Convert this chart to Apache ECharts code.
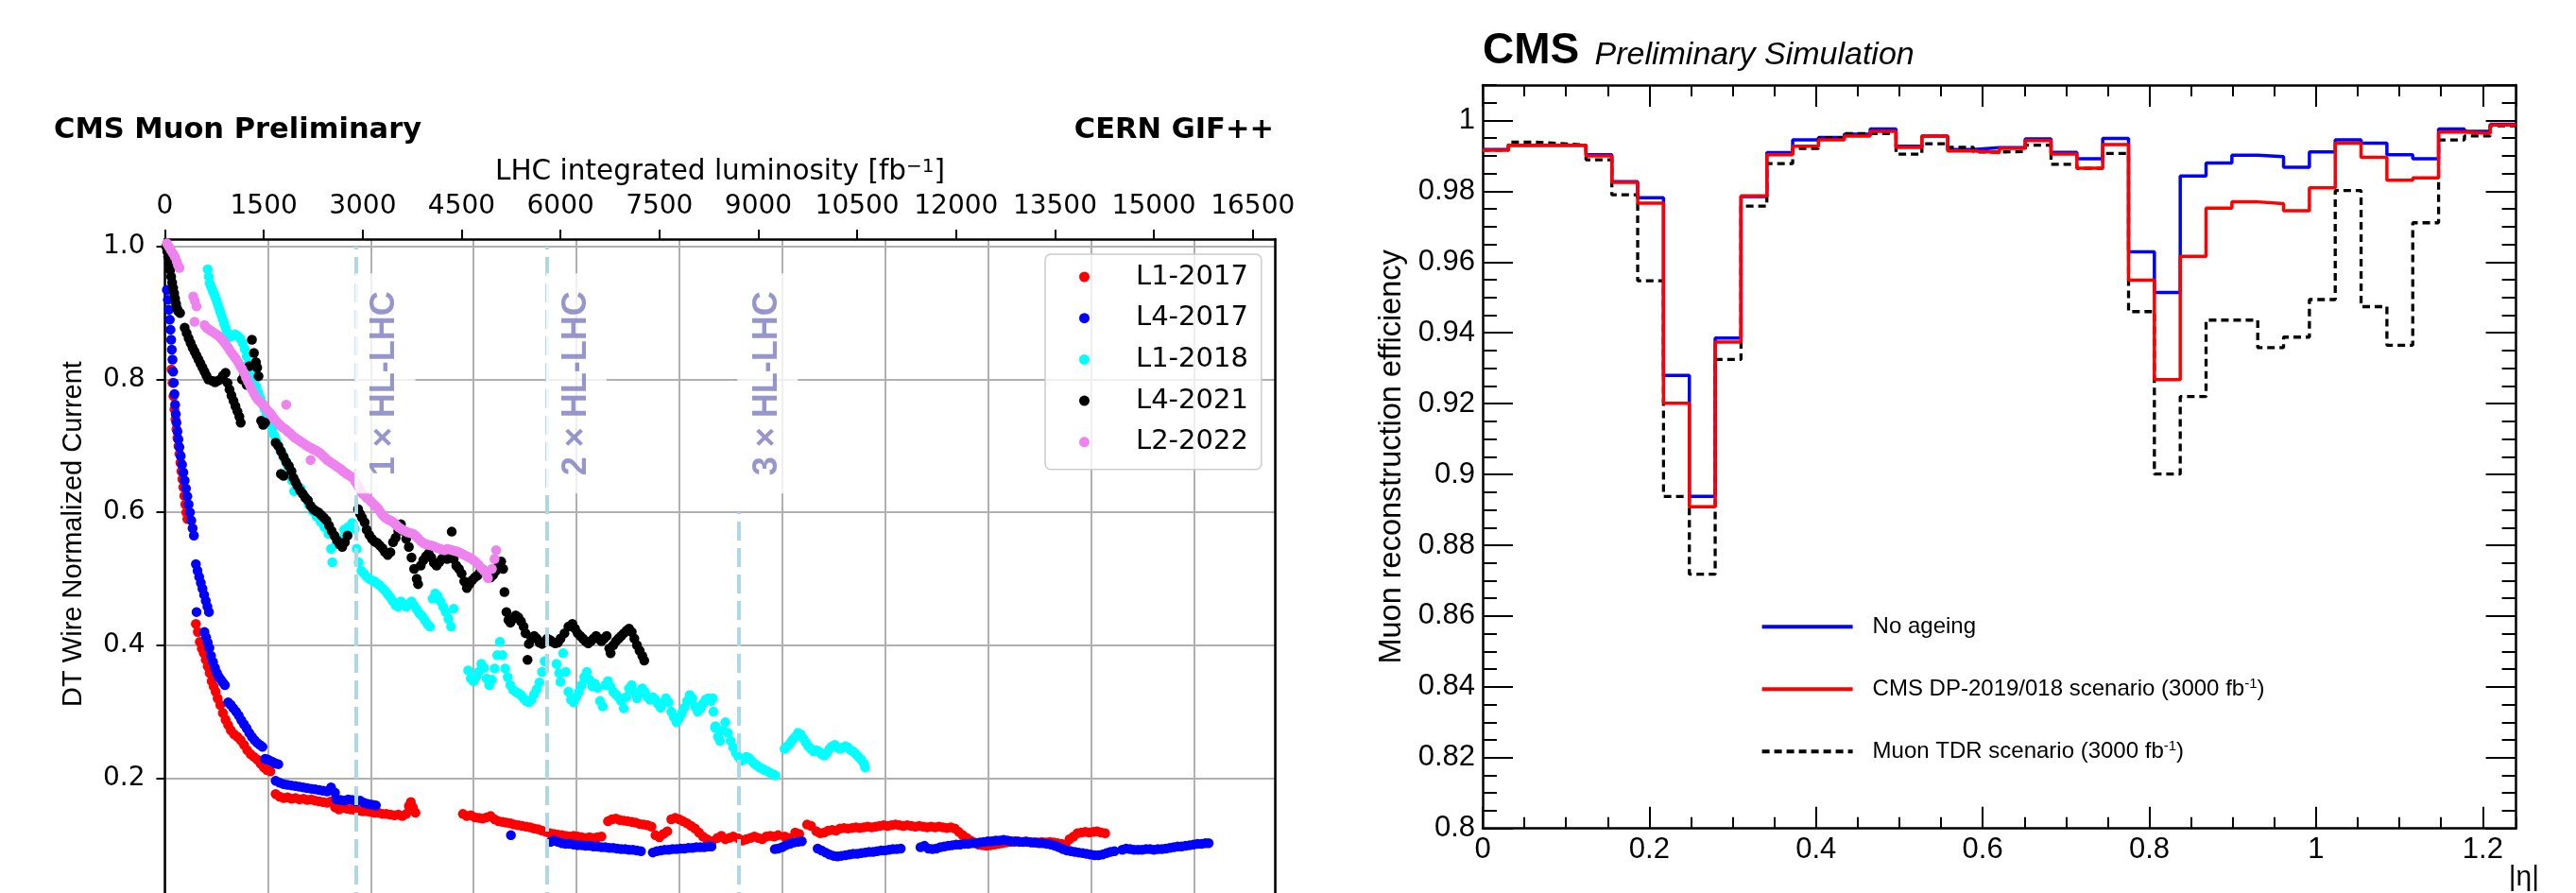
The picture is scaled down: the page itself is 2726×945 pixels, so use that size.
<!DOCTYPE html>
<html>
<head>
<meta charset="utf-8">
<script src="https://cdn.jsdelivr.net/npm/echarts@6.0.0/dist/echarts.min.js"></script>
<style>
html, body { margin:0; padding:0; background:#fff; overflow:hidden; width:2726px; height:945px; }
#wireCurrent { position:absolute; left:0; top:0; width:1400px; height:1000px; }
#muonEff { position:absolute; left:1400px; top:0; width:1326px; height:945px; }
</style>
</head>
<body>
<div id="wireCurrent"></div>
<div id="muonEff"></div>
<script>
// ---------- left panel data : DT wire current vs LHC integrated luminosity ----------
var lumiTicks = [0, 1500, 3000, 4500, 6000, 7500, 9000, 10500, 12000, 13500, 15000, 16500];
var currentTicks = [0.2, 0.4, 0.6, 0.8, 1.0];
var chamberNames = ['L1-2017', 'L4-2017', 'L1-2018', 'L4-2021', 'L2-2022'];
var chamberColors = ['#ff0000', '#0000ff', '#00ffff', '#000000', '#ee82ee'];

var l1_2017 = [
 [100,0.815],[115,0.795],[130,0.775],[145,0.755],[160,0.74],[175,0.725],[190,0.712],[205,0.70],[220,0.688],[235,0.675],
 [250,0.662],[265,0.650],[280,0.638],[295,0.625],[310,0.612],[325,0.600],[340,0.590],
 [470,0.432],[500,0.420],[530,0.405],[560,0.395],[590,0.388],[620,0.378],[650,0.368],[680,0.358],[710,0.346],[740,0.338],
 [770,0.330],[800,0.320],[840,0.310],[880,0.298],[920,0.288],[960,0.280],[1000,0.272],[1050,0.266],[1100,0.262],[1150,0.257],
 [1200,0.250],[1250,0.242],[1300,0.236],[1350,0.232],[1400,0.228],[1450,0.222],[1500,0.216],[1550,0.212],[1600,0.210],
 [1680,0.176],[1740,0.172],[1800,0.170],[1860,0.171],[1920,0.169],[1980,0.170],[2040,0.168],[2100,0.169],[2160,0.167],
 [2220,0.168],[2280,0.166],[2340,0.165],[2400,0.164],[2460,0.163],[2520,0.165],[2580,0.156],[2640,0.153],[2700,0.155],
 [2760,0.154],[2820,0.153],[2880,0.152],[2940,0.151],[3000,0.150],[3060,0.150],[3120,0.149],[3180,0.148],[3240,0.148],
 [3300,0.146],[3360,0.146],[3420,0.145],[3480,0.144],[3540,0.145],[3600,0.143],[3660,0.146],[3700,0.158],[3730,0.164],
 [3760,0.156],[3800,0.148],
 [4520,0.146],[4580,0.143],[4640,0.144],[4700,0.141],[4760,0.140],[4820,0.139],[4880,0.141],[4940,0.143],[5000,0.138],
 [5060,0.135],[5120,0.134],[5180,0.133],[5240,0.132],[5300,0.130],[5360,0.129],[5420,0.128],[5480,0.127],[5540,0.126],
 [5600,0.124],[5660,0.123],[5720,0.121],[5780,0.119],[5840,0.117],[5900,0.116],[5960,0.115],[6020,0.114],[6080,0.113],
 [6140,0.112],[6200,0.113],[6260,0.112],[6320,0.111],[6380,0.110],[6440,0.111],[6500,0.110],[6560,0.111],[6620,0.112],
 [6720,0.135],[6780,0.138],[6840,0.139],[6900,0.137],[6960,0.136],[7020,0.135],[7080,0.134],[7140,0.133],[7200,0.131],
 [7260,0.130],[7320,0.129],[7380,0.127],[7440,0.114],[7500,0.111],[7560,0.116],[7620,0.120],[7680,0.138],[7740,0.140],
 [7800,0.138],[7860,0.135],[7920,0.132],[7980,0.128],[8040,0.124],[8100,0.118],[8160,0.112],[8220,0.108],[8300,0.105],
 [8380,0.110],[8440,0.113],[8500,0.108],[8560,0.110],[8620,0.112],[8700,0.109],[8760,0.106],[8820,0.108],[8880,0.110],
 [8940,0.112],[9000,0.110],[9060,0.108],[9120,0.112],[9180,0.113],[9240,0.112],[9300,0.114],[9400,0.112],[9460,0.110],
 [9560,0.118],[9620,0.116],[9740,0.130],[9800,0.128],[9880,0.120],[9940,0.117],[10000,0.118],[10060,0.121],[10120,0.122],
 [10180,0.121],[10240,0.124],[10300,0.125],[10360,0.124],[10420,0.125],[10480,0.126],[10540,0.125],[10600,0.126],
 [10660,0.127],[10720,0.126],[10780,0.127],[10840,0.128],[10900,0.129],[10960,0.128],[11020,0.129],[11080,0.130],
 [11140,0.129],[11200,0.128],[11260,0.129],[11320,0.128],[11380,0.127],[11440,0.128],[11500,0.127],[11560,0.126],
 [11620,0.127],[11680,0.126],[11740,0.127],[11800,0.126],[11860,0.125],[11920,0.126],[11980,0.124],[12040,0.119],
 [12100,0.114],[12160,0.110],[12220,0.106],[12280,0.103],[12340,0.100],[12400,0.099],[12460,0.098],[12520,0.099],
 [12580,0.100],[12640,0.101],[12700,0.102],[12760,0.103],[12820,0.104],[12880,0.104],[12940,0.105],[13000,0.104],
 [13060,0.105],[13120,0.104],[13180,0.103],[13240,0.103],[13300,0.104],[13360,0.103],[13420,0.104],[13480,0.103],
 [13540,0.102],[13600,0.101],[13660,0.100],[13720,0.108],[13780,0.112],[13840,0.117],[13900,0.118],[13960,0.119],
 [14020,0.118],[14080,0.119],[14140,0.120],[14200,0.118],[14260,0.117]
];

var l4_2017 = [
 [30,0.935],[45,0.92],[60,0.905],[75,0.89],[85,0.875],[95,0.86],[105,0.845],[115,0.83],[125,0.812],[135,0.795],[145,0.778],
 [155,0.762],[165,0.748],[175,0.735],[190,0.722],[205,0.71],[220,0.698],[240,0.685],[260,0.672],[280,0.66],[300,0.648],
 [320,0.636],[340,0.624],[360,0.612],[380,0.600],[400,0.588],[420,0.576],[440,0.565],
 [470,0.522],[495,0.512],[520,0.503],[545,0.494],[570,0.485],[595,0.476],[620,0.467],[645,0.458],[668,0.45],[480,0.45],
 [600,0.420],[625,0.412],[650,0.404],[675,0.396],[700,0.384],[730,0.375],[760,0.366],[790,0.358],[820,0.352],[850,0.348],
 [880,0.344],[910,0.340],[960,0.314],[1000,0.310],[1040,0.305],[1080,0.300],[1120,0.294],[1160,0.287],[1200,0.281],
 [1240,0.275],[1280,0.268],[1320,0.262],[1360,0.257],[1400,0.253],[1440,0.250],[1480,0.247],[1520,0.229],[1560,0.228],
 [1600,0.226],[1640,0.224],[1680,0.222],[1720,0.221],
 [1680,0.196],[1740,0.193],[1800,0.191],[1860,0.190],[1920,0.189],[1980,0.188],[2040,0.187],[2100,0.186],[2160,0.185],
 [2220,0.184],[2280,0.183],[2340,0.182],[2400,0.181],[2460,0.180],[2520,0.186],[2580,0.178],[2600,0.168],[2660,0.167],
 [2720,0.166],[2780,0.168],[2840,0.167],[2900,0.165],[2960,0.166],[3020,0.163],[3080,0.161],[3140,0.160],[3200,0.159],
 [5248,0.114],
 [5850,0.104],[5900,0.106],[5960,0.104],[6020,0.102],[6080,0.101],[6140,0.101],[6200,0.100],[6260,0.099],[6320,0.099],
 [6380,0.098],[6440,0.098],[6500,0.097],[6560,0.097],[6620,0.096],[6680,0.096],[6740,0.095],[6800,0.095],[6860,0.094],
 [6920,0.093],[6980,0.093],[7040,0.092],[7100,0.092],[7160,0.091],[7220,0.090],
 [7400,0.088],[7460,0.090],[7520,0.091],[7580,0.092],[7640,0.092],[7700,0.093],[7760,0.093],[7820,0.094],[7880,0.094],
 [7940,0.095],[8000,0.095],[8060,0.096],[8120,0.096],[8180,0.096],[8240,0.097],[8290,0.097],
 [9250,0.093],[9300,0.094],[9360,0.096],[9420,0.099],[9480,0.101],[9540,0.103],[9600,0.104],[9660,0.105],
 [9900,0.094],[9960,0.091],[10020,0.088],[10080,0.085],[10140,0.083],[10200,0.082],[10260,0.083],[10320,0.084],
 [10380,0.085],[10440,0.086],[10500,0.086],[10560,0.087],[10620,0.088],[10680,0.089],[10740,0.089],[10800,0.090],
 [10860,0.091],[10920,0.091],[10980,0.092],[11040,0.093],[11100,0.093],[11160,0.094],
 [11460,0.096],[11520,0.098],[11580,0.094],[11640,0.093],[11700,0.094],[11760,0.096],[11820,0.097],[11880,0.098],
 [11940,0.099],[12000,0.100],[12060,0.100],[12120,0.101],[12180,0.101],[12240,0.102],[12300,0.102],[12360,0.103],
 [12420,0.104],[12480,0.105],[12540,0.105],[12600,0.106],[12660,0.106],[12720,0.107],[12780,0.106],[12840,0.105],
 [12900,0.105],[12960,0.104],[13020,0.104],[13080,0.104],[13140,0.103],[13200,0.103],[13260,0.102],[13320,0.102],
 [13380,0.101],[13440,0.100],[13500,0.098],[13560,0.096],[13620,0.093],[13680,0.091],[13740,0.090],[13800,0.089],
 [13860,0.088],[13920,0.087],[13980,0.086],[14040,0.085],[14100,0.084],[14160,0.084],[14220,0.085],[14280,0.087],
 [14340,0.089],[14400,0.090],[14520,0.092],[14580,0.094],[14640,0.093],[14700,0.092],[14760,0.092],[14820,0.092],
 [14880,0.093],[14940,0.093],[15000,0.092],[15060,0.093],[15120,0.093],[15180,0.094],[15240,0.095],[15300,0.096],
 [15360,0.097],[15420,0.097],[15480,0.098],[15540,0.099],[15600,0.100],[15660,0.101],[15720,0.101],[15780,0.102],
 [15830,0.102]
];

var l1_2018 = [
 [650,0.966],[665,0.955],[680,0.945],[700,0.940],[720,0.935],[740,0.930],[760,0.925],[780,0.920],[800,0.914],[820,0.908],
 [840,0.902],[860,0.896],[880,0.890],[900,0.884],[920,0.878],[940,0.872],[960,0.866],[990,0.864],[1020,0.866],[1060,0.868],
 [1100,0.866],[1140,0.862],[1180,0.855],[1210,0.846],[1240,0.835],[1270,0.824],[1300,0.814],[1330,0.805],[1360,0.796],
 [1390,0.788],[1420,0.780],[1450,0.772],[1480,0.764],[1510,0.756],[1540,0.748],[1570,0.740],[1600,0.732],[1630,0.724],
 [1660,0.716],[1690,0.708],[1720,0.700],[1750,0.694],[1780,0.688],[1810,0.682],[1840,0.675],[1870,0.668],[1900,0.660],
 [1930,0.648],[1960,0.632],[2000,0.640],[2060,0.636],[2120,0.624],[2180,0.612],[2240,0.602],[2300,0.594],[2360,0.586],
 [2420,0.578],[2480,0.568],[2520,0.545],[2540,0.525],[2600,0.552],[2660,0.560],[2720,0.574],[2780,0.578],[2840,0.584],
 [2880,0.575],[2910,0.545],[2940,0.525],[2980,0.512],[3020,0.508],[3060,0.503],[3100,0.500],[3140,0.498],[3180,0.496],
 [3220,0.493],[3260,0.490],[3300,0.486],[3340,0.482],[3380,0.477],[3420,0.472],[3460,0.466],[3500,0.460],[3540,0.458],
 [3580,0.466],[3620,0.462],[3660,0.458],[3700,0.462],[3740,0.466],[3780,0.460],[3820,0.454],[3860,0.448],[3900,0.444],
 [3940,0.438],[3980,0.432],[4020,0.428],[4060,0.470],[4100,0.478],[4140,0.474],[4180,0.466],[4220,0.458],[4260,0.450],
 [4300,0.440],[4340,0.428],[4380,0.455],
 [4600,0.362],[4640,0.350],[4680,0.346],[4720,0.352],[4760,0.360],[4800,0.372],[4840,0.366],[4880,0.350],[4920,0.340],
 [4960,0.348],[5000,0.365],[5040,0.385],[5080,0.405],[5120,0.385],[5160,0.365],[5200,0.352],[5240,0.340],[5280,0.333],
 [5320,0.330],[5360,0.328],[5400,0.325],[5440,0.320],[5480,0.316],[5520,0.314],[5560,0.318],[5600,0.326],[5640,0.334],
 [5680,0.344],[5720,0.360],[5760,0.376],[5940,0.372],[5980,0.358],[6000,0.345],[6040,0.388],[6080,0.360],[6120,0.330],
 [6160,0.318],[6200,0.314],[6240,0.322],[6280,0.330],[6320,0.340],[6360,0.352],[6400,0.360],[6440,0.348],[6480,0.338],
 [6520,0.342],[6560,0.336],[6600,0.316],[6640,0.308],[6680,0.340],[6720,0.346],[6760,0.338],[6800,0.330],[6840,0.326],
 [6880,0.322],[6920,0.316],[6960,0.305],[7000,0.322],[7040,0.335],[7080,0.340],[7120,0.330],[7160,0.320],[7200,0.328],
 [7240,0.335],[7280,0.330],[7320,0.322],[7360,0.318],[7400,0.322],[7440,0.318],[7480,0.312],[7520,0.306],[7560,0.314],
 [7600,0.320],[7640,0.314],[7680,0.300],[7720,0.292],[7760,0.284],[7800,0.290],[7840,0.298],[7880,0.306],[7920,0.316],
 [7960,0.325],[8000,0.320],[8040,0.308],[8080,0.300],[8120,0.304],[8160,0.312],[8200,0.318],[8240,0.320],[8280,0.316],
 [8311,0.320],[8320,0.300],[8343,0.276],[8350,0.278],[8390,0.262],[8420,0.256],[8460,0.272],[8500,0.284],[8540,0.268],
 [8580,0.256],[8620,0.246],[8660,0.238],[8700,0.232],[8740,0.226],[8780,0.228],[8820,0.232],[8860,0.230],[8900,0.226],
 [8940,0.222],[8980,0.219],[9020,0.216],[9060,0.214],[9100,0.212],[9140,0.210],[9180,0.208],[9220,0.206],[9260,0.204],
 [9400,0.244],[9440,0.248],[9480,0.252],[9520,0.258],[9560,0.262],[9600,0.268],[9640,0.266],[9680,0.260],[9720,0.254],
 [9760,0.248],[9800,0.244],[9840,0.240],[9880,0.242],[9920,0.240],[9960,0.236],[10000,0.234],[10040,0.238],[10080,0.244],
 [10120,0.248],[10160,0.250],[10200,0.246],[10240,0.244],[10280,0.246],[10320,0.248],[10360,0.246],[10400,0.242],
 [10440,0.240],[10480,0.236],[10520,0.232],[10560,0.228],[10600,0.222],[10620,0.216]
];

var l4_2021 = [
 [20,1.0],[35,0.993],[50,0.985],[65,0.975],[80,0.965],[95,0.955],[110,0.946],[125,0.938],[140,0.930],[155,0.922],
 [170,0.914],[185,0.907],[200,0.903],[230,0.900],
 [300,0.878],[330,0.870],[360,0.862],[390,0.855],[420,0.848],[450,0.842],[480,0.836],[510,0.830],[540,0.824],[570,0.818],
 [600,0.812],[630,0.806],[660,0.800],[720,0.798],[760,0.796],[800,0.798],[840,0.800],[880,0.806],[920,0.810],[950,0.795],
 [980,0.785],[1010,0.776],[1040,0.768],[1070,0.760],[1100,0.752],[1130,0.744],[1150,0.735],[1170,0.800],[1200,0.806],
 [1240,0.792],[1280,0.820],[1320,0.860],[1350,0.840],[1380,0.826],[1400,0.818],[1420,0.805],[1460,0.738],[1490,0.732],
 [1520,0.735],
 [1680,0.705],[1720,0.700],[1760,0.692],[1800,0.684],[1840,0.676],[1880,0.670],[1760,0.658],[1800,0.655],[1920,0.662],
 [1950,0.652],[1980,0.646],[2010,0.640],[2050,0.633],[2090,0.628],[2130,0.622],[2170,0.618],[2210,0.610],[2250,0.605],
 [2290,0.602],[2330,0.600],[2370,0.596],[2410,0.592],[2450,0.588],[2490,0.580],[2530,0.572],[2570,0.565],[2610,0.558],
 [2650,0.552],[2690,0.548],[2730,0.555],[2770,0.565],
 [2930,0.605],[2960,0.598],[2990,0.592],[3030,0.585],[3060,0.574],[3100,0.566],[3140,0.560],[3180,0.556],[3220,0.554],
 [3260,0.550],[3300,0.546],[3340,0.540],[3380,0.536],[3420,0.540],[3460,0.555],[3500,0.562],[3540,0.572],[3580,0.582],
 [3620,0.572],[3660,0.560],[3700,0.548],[3740,0.532],[3780,0.515],[3820,0.500],[3840,0.492],[3880,0.520],[3920,0.528],
 [3960,0.534],[4000,0.538],[4040,0.532],[4080,0.524],[4120,0.520],[4160,0.525],[4200,0.530],[4240,0.534],[4280,0.530],
 [4320,0.540],[4350,0.571],[4380,0.530],[4420,0.520],[4460,0.515],[4500,0.508],[4540,0.496],[4580,0.486],[4620,0.492],
 [4660,0.498],[4700,0.502],[4740,0.505],[4780,0.510],[4820,0.514],[4860,0.510],[4900,0.505],[4940,0.502],[4980,0.506],
 [5020,0.512],[5060,0.520],[5100,0.526],[5130,0.515],
 [5150,0.480],[5180,0.450],[5210,0.438],[5240,0.434],[5280,0.440],[5320,0.445],[5360,0.442],[5400,0.436],[5440,0.428],
 [5470,0.418],[5500,0.378],[5520,0.402],[5560,0.410],[5600,0.414],[5640,0.410],[5680,0.404],[5720,0.402],[5760,0.406],
 [5800,0.410],[5840,0.408],[5880,0.405],[5920,0.403],[5960,0.404],[6000,0.410],[6060,0.418],[6120,0.428],[6180,0.432],
 [6220,0.425],[6260,0.418],[6300,0.414],[6340,0.410],[6380,0.406],[6420,0.403],[6460,0.406],[6500,0.410],[6540,0.414],
 [6580,0.410],[6620,0.406],[6660,0.410],[6700,0.414],[6740,0.395],[6760,0.388],[6800,0.400],[6840,0.406],[6880,0.410],
 [6920,0.414],[6960,0.418],[7000,0.422],[7040,0.425],[7080,0.420],[7120,0.410],[7160,0.400],[7200,0.392],[7240,0.384],
 [7270,0.377]
];

var l2_2022 = [
 [30,1.005],[60,1.0],[90,0.995],[120,0.99],[150,0.985],[180,0.978],[200,0.972],[220,0.968],
 [430,0.925],[455,0.918],[480,0.910],[450,0.887],
 [600,0.882],[630,0.878],[660,0.876],[690,0.874],[720,0.872],[750,0.870],[780,0.868],[810,0.866],[840,0.863],[870,0.860],
 [900,0.856],[930,0.852],[960,0.848],[990,0.843],[1020,0.839],[1050,0.835],[1080,0.831],[1110,0.826],[1140,0.821],
 [1170,0.816],[1200,0.810],[1230,0.803],[1260,0.797],[1290,0.791],[1320,0.785],[1350,0.779],[1380,0.774],[1410,0.770],
 [1440,0.767],[1470,0.764],[1500,0.761],[1530,0.757],[1560,0.753],[1590,0.750],[1620,0.746],[1650,0.742],[1680,0.738],
 [1710,0.735],[1740,0.732],[1770,0.729],[1800,0.727],[1840,0.762],[1830,0.725],[1860,0.722],[1890,0.720],[1920,0.717],
 [1950,0.714],[1980,0.712],[2010,0.710],[2040,0.708],[2070,0.706],[2100,0.704],[2130,0.702],[2160,0.700],[2190,0.698],
 [2210,0.679],[2220,0.697],[2250,0.695],[2280,0.694],[2310,0.692],[2340,0.690],[2370,0.688],[2400,0.685],[2430,0.682],
 [2460,0.679],[2490,0.677],[2520,0.675],[2550,0.673],[2580,0.671],[2610,0.669],[2640,0.667],[2670,0.665],[2700,0.662],
 [2730,0.660],[2760,0.658],[2790,0.656],[2820,0.654],[2850,0.652],[2880,0.648],[2910,0.643],[2940,0.638],[2970,0.632],
 [3000,0.628],[3030,0.626],[3060,0.622],[3090,0.620],[3120,0.617],[3150,0.614],[3180,0.611],[3210,0.608],[3240,0.605],
 [3270,0.600],[3300,0.596],[3330,0.593],[3360,0.591],[3390,0.589],[3420,0.588],[3450,0.586],[3480,0.584],[3510,0.581],
 [3540,0.578],[3570,0.576],[3600,0.574],[3640,0.572],[3680,0.570],[3720,0.569],[3760,0.568],[3800,0.565],[3840,0.561],
 [3880,0.557],[3920,0.554],[3960,0.552],[4000,0.551],[4040,0.550],[4080,0.549],[4120,0.547],[4160,0.546],[4200,0.544],
 [4240,0.543],[4280,0.545],[4320,0.544],[4360,0.543],[4400,0.542],[4440,0.541],[4480,0.539],[4520,0.537],[4560,0.535],
 [4600,0.533],[4640,0.531],[4680,0.528],[4720,0.525],[4760,0.521],[4800,0.516],[4840,0.512],[4880,0.506],[4900,0.501],
 [4960,0.515],[5000,0.530],[5024,0.543]
];

var hlLines = [2900, 5800, 8700];
var hlLineTops = [1.0, 1.0, 0.6];
var hlNames = ['1 × HL-LHC', '2 × HL-LHC', '3 × HL-LHC'];

// ---------- right panel data : muon reconstruction efficiency vs |eta| ----------
var etaEdges = [0, 0.031, 0.062, 0.093, 0.124, 0.155, 0.186, 0.217, 0.248, 0.279, 0.31, 0.341, 0.372, 0.403,
 0.434, 0.465, 0.496, 0.527, 0.558, 0.589, 0.62, 0.651, 0.682, 0.713, 0.744, 0.775, 0.806, 0.837, 0.868, 0.899,
 0.93, 0.961, 0.992, 1.023, 1.054, 1.085, 1.116, 1.147, 1.178, 1.209, 1.24];
var effNoAgeing = [0.9918, 0.993, 0.993, 0.993, 0.9903, 0.9827, 0.9782, 0.928, 0.8938, 0.9385, 0.9785, 0.9909,
 0.9945, 0.9952, 0.9961, 0.9976, 0.9927, 0.9956, 0.9918, 0.9923, 0.9923, 0.9948, 0.991, 0.9892, 0.9949, 0.9629,
 0.9514, 0.9843, 0.988, 0.9902, 0.9898, 0.9868, 0.9911, 0.9945, 0.9936, 0.9903, 0.9892, 0.9976, 0.9969, 0.9989];
var effDP2019 = [0.9916, 0.993, 0.993, 0.993, 0.990, 0.9825, 0.9766, 0.9201, 0.8909, 0.9374, 0.9787, 0.9903,
 0.9927, 0.9945, 0.9956, 0.9969, 0.9924, 0.9956, 0.9914, 0.9909, 0.9921, 0.9943, 0.9905, 0.9865, 0.9932, 0.9549,
 0.9268, 0.9616, 0.9752, 0.977, 0.9765, 0.9745, 0.981, 0.9936, 0.9896, 0.9831, 0.9838, 0.9967, 0.9963, 0.9987];
var effTDR = [0.9916, 0.9939, 0.9935, 0.993, 0.9889, 0.979, 0.9547, 0.8938, 0.8718, 0.9325, 0.9758, 0.9878,
 0.9921, 0.9951, 0.9963, 0.9963, 0.9905, 0.9934, 0.9924, 0.9911, 0.9912, 0.993, 0.9876, 0.9865, 0.9907, 0.946,
 0.9001, 0.922, 0.9436, 0.9436, 0.9358, 0.9388, 0.9494, 0.9802, 0.9474, 0.9365, 0.9711, 0.9945, 0.9956, 0.9985];
var effNames = ['No ageing', 'CMS DP-2019/018 scenario (3000 fb-1)', 'Muon TDR scenario (3000 fb-1)'];
var etaTicksMajor = 0.2, etaTicksMinor = 0.05, effTicksMajor = 0.02, effTicksMinor = 0.005;

// =============================== left chart ===============================
var myChart = echarts.init(document.getElementById('wireCurrent'));
var blackLine = { color: '#000', width: 2.5 };
var gridGray = { color: '#b0b0b0', width: 2 };
var chamberData = [l1_2017, l4_2017, l1_2018, l4_2021, l2_2022];

var leftSeries = chamberNames.map(function (name, i) {
	return {
		name: name,
		type: 'scatter',
		xAxisIndex: 0,
		yAxisIndex: 0,
		symbolSize: 10.5,
		silent: true,
		itemStyle: { color: chamberColors[i], opacity: 1 },
		data: chamberData[i]
	};
});
leftSeries.push({
	name: 'HL-LHC',
	type: 'scatter',
	xAxisIndex: 0,
	yAxisIndex: 0,
	symbolSize: 1,
	silent: true,
	z: 5,
	itemStyle: { color: 'rgba(0,0,0,0)' },
	label: {
		show: true,
		position: 'inside',
		rotate: 90,
		formatter: '{b}',
		fontFamily: 'Liberation Sans',
		fontWeight: 'bold',
		fontSize: 36,
		lineHeight: 36,
		color: '#7c7cc0',
		backgroundColor: '#ffffff',
		padding: [14, 19, 14, 19]
	},
	data: hlNames.map(function (n, i) {
		return { name: n, value: [hlLines[i] + 440, 0.794] };
	}),
	markLine: {
		silent: true,
		symbol: ['none', 'none'],
		label: { show: false },
		lineStyle: { color: '#add8e6', type: [20, 8], width: 4 },
		data: hlLines.map(function (x, i) {
			return [{ coord: [x, 0] }, { coord: [x, hlLineTops[i]] }];
		})
	}
});

option = {
	animation: false,
	textStyle: { fontFamily: 'DejaVu Sans' },
	grid: { left: 174.5, top: 253, width: 1175, height: 711 },
	legend: {
		data: chamberNames,
		orient: 'vertical',
		left: 1106,
		top: 269,
		padding: [7, 14, 12, 36],
		itemWidth: 11,
		itemHeight: 11,
		itemGap: 9.7,
		icon: 'circle',
		selectedMode: false,
		backgroundColor: 'rgba(255,255,255,0.8)',
		borderColor: '#cccccc',
		borderWidth: 1.5,
		borderRadius: 6,
		textStyle: { fontFamily: 'DejaVu Sans', fontSize: 29, color: '#000', lineHeight: 34, padding: [0, 0, 0, 44] }
	},
	graphic: [
		{ type: 'text', x: 57, y: 138, style: { text: 'CMS Muon Preliminary', font: 'bold 30.5px "DejaVu Sans"', fill: '#000', verticalAlign: 'middle' } },
		{ type: 'text', x: 1348, y: 138, style: { text: 'CERN GIF++', font: 'bold 30.5px "DejaVu Sans"', fill: '#000', align: 'right', verticalAlign: 'middle' } },
		{ type: 'text', x: 77.5, y: 565, rotation: Math.PI / 2, style: { text: 'DT Wire Normalized Current', font: '29px "Liberation Sans"', fill: '#000', align: 'center', verticalAlign: 'middle' } }
	],
	xAxis: [{
		type: 'value',
		position: 'top',
		min: 0,
		max: 16840,
		interval: 1500,
		name: 'LHC integrated luminosity [fb{s|−1}]',
		nameLocation: 'middle',
		nameGap: 56,
		nameTextStyle: { fontFamily: 'DejaVu Sans', fontSize: 29.5, color: '#000', rich: { s: { fontFamily: 'DejaVu Sans', fontSize: 20, color: '#000', verticalAlign: 'top' } } },
		axisLine: { onZero: false, lineStyle: blackLine },
		axisTick: { inside: false, length: 10, lineStyle: { color: '#000', width: 2 }, customValues: lumiTicks },
		axisLabel: { customValues: lumiTicks, color: '#000', fontSize: 28, fontFamily: 'DejaVu Sans', margin: 20,
			formatter: function (v) { return String(v); } },
		splitLine: { show: false }
	}, {
		type: 'value',
		position: 'bottom',
		min: 0,
		max: 10.79,
		interval: 1,
		axisLine: { onZero: false, lineStyle: blackLine },
		axisTick: { show: false },
		axisLabel: { show: false },
		splitLine: { show: true, lineStyle: gridGray }
	}],
	yAxis: [{
		type: 'value',
		position: 'left',
		min: 0,
		max: 1.0114,
		interval: 0.2,
		axisLine: { show: true, onZero: false, lineStyle: blackLine },
		axisTick: { show: true, inside: false, length: 9, lineStyle: { color: '#000', width: 2 }, customValues: currentTicks },
		axisLabel: { customValues: currentTicks, color: '#000', fontSize: 28, fontFamily: 'DejaVu Sans', margin: 21,
			formatter: function (v) { return v.toFixed(1); } },
		splitLine: { show: true, lineStyle: gridGray }
	}, {
		type: 'value',
		position: 'right',
		min: 0,
		max: 1.0114,
		axisLine: { show: true, onZero: false, lineStyle: blackLine },
		axisTick: { show: false },
		axisLabel: { show: false },
		splitLine: { show: false }
	}],
	series: leftSeries
};
myChart.setOption(option);

// =============================== right chart ===============================
var myChart2 = echarts.init(document.getElementById('muonEff'));

function stepData(vals) {
	return etaEdges.map(function (e, i) {
		return [e, vals[Math.min(i, vals.length - 1)]];
	});
}

function rootAxis(pos, min, max, interval, tickLen, showLine, showLabel) {
	return {
		type: 'value',
		position: pos,
		min: min,
		max: max,
		interval: interval,
		axisLine: { show: showLine, onZero: false, lineStyle: blackLine },
		axisTick: { show: true, inside: true, length: tickLen, lineStyle: { color: '#000', width: 2 } },
		axisLabel: { show: showLabel, showMaxLabel: false, color: '#000', fontFamily: 'Liberation Sans', fontSize: 31 },
		splitLine: { show: false }
	};
}

var xBottom = rootAxis('bottom', 0, 1.24, etaTicksMajor, 23, true, true);
xBottom.axisLabel.margin = 7;
xBottom.name = '|η|';
xBottom.nameLocation = 'end';
xBottom.nameGap = -2;
xBottom.nameTextStyle = { fontFamily: 'Liberation Sans', fontSize: 30, color: '#000', align: 'right', verticalAlign: 'top', padding: [37, 0, 0, 0] };

var yLeft = rootAxis('left', 0.8, 1.01, effTicksMajor, 32, true, true);
yLeft.axisLabel.margin = 8;
yLeft.name = 'Muon reconstruction efficiency';
yLeft.nameLocation = 'middle';
yLeft.nameGap = 78;
yLeft.nameTextStyle = { fontFamily: 'Liberation Sans', fontSize: 32.5, color: '#000' };

var effData = [effNoAgeing, effDP2019, effTDR];
var effColors = ['#0000ff', '#ff0000', '#000000'];
var effLines = [
	{ color: '#0000ff', width: 3.5, type: 'solid' },
	{ color: '#ff0000', width: 3.5, type: 'solid' },
	{ color: '#000000', width: 3.3, type: [8, 5] }
];
var drawOrder = [0, 2, 1];

option = {
	animation: false,
	grid: { left: 169, top: 90, right: 63.4, bottom: 68.3 },
	legend: {
		data: effNames,
		orient: 'vertical',
		left: 462.6,
		top: 650.3,
		padding: 0,
		itemWidth: 96,
		itemHeight: 26,
		itemGap: 40,
		selectedMode: false,
		itemStyle: { opacity: 0 },
		lineStyle: { width: 4 },
		formatter: function (name) { return name.replace('fb-1', 'fb{sup|-1}'); },
		textStyle: {
			fontFamily: 'Liberation Sans', fontSize: 24, color: '#000', lineHeight: 26, padding: [0, 0, 0, 16],
			rich: { sup: { fontFamily: 'Liberation Sans', fontSize: 15, color: '#000', verticalAlign: 'top' } }
		}
	},
	graphic: [
		{ type: 'text', x: 169, y: 54, style: { text: 'CMS', font: 'bold 46px "Liberation Sans"', fill: '#000', verticalAlign: 'middle' } },
		{ type: 'text', x: 287.5, y: 58.2, style: { text: 'Preliminary Simulation', font: 'italic 34px "Liberation Sans"', fill: '#000', verticalAlign: 'middle' } }
	],
	xAxis: [
		xBottom,
		rootAxis('bottom', 0, 1.24, etaTicksMinor, 12, false, false),
		rootAxis('top', 0, 1.24, etaTicksMajor, 23, true, false),
		rootAxis('top', 0, 1.24, etaTicksMinor, 12, false, false)
	],
	yAxis: [
		yLeft,
		rootAxis('left', 0.8, 1.01, effTicksMinor, 15, false, false),
		rootAxis('right', 0.8, 1.01, effTicksMajor, 32, true, false),
		rootAxis('right', 0.8, 1.01, effTicksMinor, 15, false, false)
	],
	series: drawOrder.map(function (i) {
		return {
			name: effNames[i],
			type: 'line',
			step: 'end',
			xAxisIndex: 0,
			yAxisIndex: 0,
			symbol: 'none',
			silent: true,
			itemStyle: { color: effColors[i] },
			lineStyle: effLines[i],
			data: stepData(effData[i])
		};
	})
};
myChart2.setOption(option);
</script>
</body>
</html>
